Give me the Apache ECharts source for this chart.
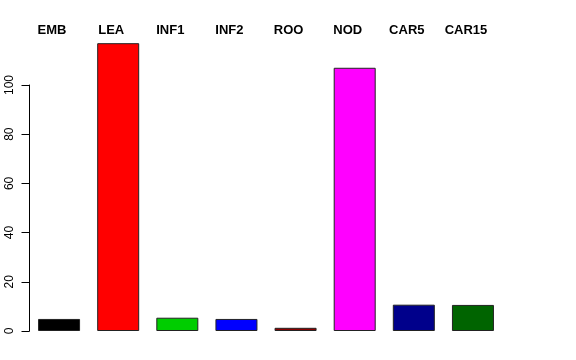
<!DOCTYPE html>
<html>
<head>
<meta charset="utf-8">
<script src="https://cdn.jsdelivr.net/npm/echarts@6/dist/echarts.min.js"></script>
<style>html,body{margin:0;padding:0;background:#fff}#c{width:576px;height:360px}</style>
</head>
<body>
<div id="c"></div>
<script>
var categories = ['EMB', 'LEA', 'INF1', 'INF2', 'ROO', 'NOD', 'CAR5', 'CAR15'];
var values = [4.9, 117, 5.4, 4.9, 1.3, 107, 10.7, 10.6];
var colors = ['#000000', '#FF0000', '#00CD00', '#0000FF', '#8B0000', '#FF00FF', '#00008B', '#006400'];
var yTicks = [0, 20, 40, 60, 80, 100];

var chart = echarts.init(document.getElementById('c'), null, {renderer: 'canvas'});
chart.setOption({
  animation: false,
  backgroundColor: '#ffffff',
  grid: {left: 29.5, width: 473, top: 85, bottom: 29, containLabel: false},
  xAxis: {
    type: 'category',
    position: 'top',
    data: categories,
    axisLine: {show: false},
    axisTick: {show: false},
    axisLabel: {
      margin: 48,
      padding: [0, 14, 0, 0],
      fontFamily: 'Liberation Sans',
      fontWeight: 'bold',
      fontSize: 13,
      color: '#000'
    }
  },
  yAxis: {
    type: 'value',
    min: yTicks[0],
    max: yTicks[yTicks.length - 1],
    interval: 20,
    splitLine: {show: false},
    axisLine: {show: true, lineStyle: {color: '#000', width: 1}},
    axisTick: {show: true, length: 8, lineStyle: {color: '#000'}},
    axisLabel: {
      rotate: 90,
      margin: 14,
      fontFamily: 'Liberation Sans',
      fontSize: 12,
      color: '#000'
    }
  },
  series: [{
    type: 'bar',
    clip: false,
    barWidth: 42,
    data: values.map(function (v, i) {
      return {value: v, itemStyle: {color: colors[i]}};
    }),
    itemStyle: {borderColor: '#222', borderWidth: 1}
  }]
});
</script>
</body>
</html>
